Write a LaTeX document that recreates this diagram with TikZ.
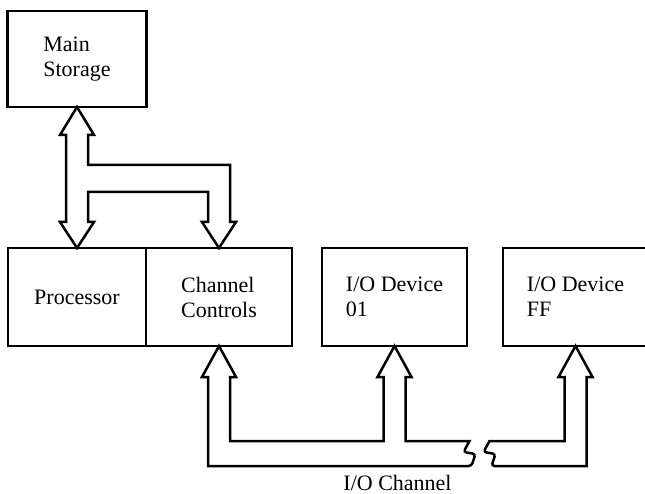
\documentclass[tikz,border=0pt]{standalone}
\usepackage{fontspec}
\setmainfont{Liberation Serif}
\usepackage{tikz}
\usetikzlibrary{calc,positioning}
\tikzset{
  blk/.style = {draw, line width=2.5pt, rectangle, outer sep=0pt, inner sep=0pt, minimum height=98pt, align=left, font=\fontsize{22}{25}\selectfont},
  bus/.style = {line width=2.5pt, line join=miter},
  lbl/.style = {inner sep=0pt, font=\fontsize{22}{25}\selectfont}
}
\begin{document}
\begin{tikzpicture}[x=1pt, y=-1pt]
            \clip (0,0) rectangle (645,494);
            \node[blk, minimum width=138pt] (proc) at (77,297) {Processor};
            \node[blk, minimum width=146pt, right=0pt of proc] (cc) {Channel\\Controls};
            \node[blk, minimum width=145pt, right=30pt of cc] (dev01) {I/O Device\\01};
            \node[blk, minimum width=145pt, right=36pt of dev01] (devff) {I/O Device\\FF};
            \node[blk, minimum width=139pt, minimum height=96pt, above=141pt of proc] (ms) {Main\\Storage};
            \node[lbl, anchor=base] (chan) at ($(dev01.south)+(3,144)$) {I/O Channel};
            \coordinate (brkA) at ($(dev01.south)+(75,95)$);
            \coordinate (brkB) at ($(brkA)+(20,0)$);
            \draw[bus] (brkA) [rounded corners=3pt] -- ++(-6,11) -- ++(12,2) -- ++(-4,12) [sharp corners]
                -| ($(cc.south)+(-11,31)$) -- ++(-6,0) -- (cc.south) -- ++(17,31) -- ++(-6,0)
                |- ($(dev01.south)+(-11,95)$) -- ++(0,-64) -- ++(-6,0) -- (dev01.south) -- ++(17,31) -- ++(-6,0)
                |- (brkA) -- cycle;
            \draw[bus] (brkB) [rounded corners=3pt] -- ++(-6,11) -- ++(12,2) -- ++(-4,12) [sharp corners]
                -| ($(devff.south)+(11,31)$) -- ++(6,0) -- (devff.south) -- ++(-17,31) -- ++(6,0)
                |- (brkB) -- cycle;
            \draw[bus] (ms.south) -- ++(17,28) -- ++(-6,0) -- ++(0,30) -| ($(cc.north)+(11,-26)$)
                -- ++(6,0) -- (cc.north) -- ++(-17,-26) -- ++(6,0) -- ++(0,-30)
                -| ($(proc.north)+(11,-26)$) -- ++(6,0) -- (proc.north) -- ++(-17,-26) -- ++(6,0)
                -- ($(ms.south)+(-11,28)$) -- ++(-6,0) -- cycle;
        \end{tikzpicture}
\end{document}
